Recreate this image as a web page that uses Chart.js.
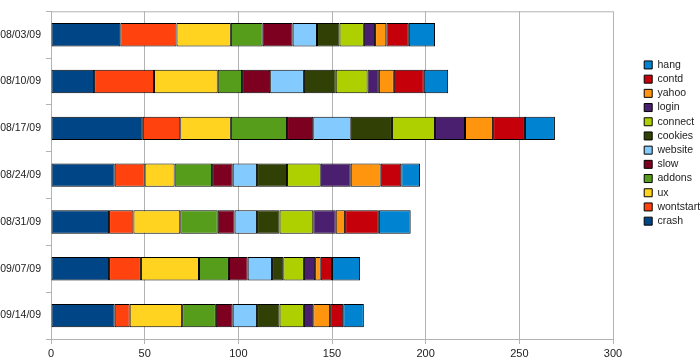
<!DOCTYPE html>
<html>
<head>
<meta charset="utf-8">
<script src="https://cdn.jsdelivr.net/npm/chart.js@4/dist/chart.umd.min.js"></script>
<style>
  html, body { margin: 0; padding: 0; background: #fff; }
  #wrap { width: 700px; height: 359px; }
</style>
</head>
<body>
<div id="wrap"><canvas id="chart"></canvas></div>
<script>
const weeks = ["08/03/09", "08/10/09", "08/17/09", "08/24/09", "08/31/09", "09/07/09", "09/14/09"];

const crash = [37, 23, 49, 34, 31, 31, 34];
const wontstart = [30, 32, 20, 16, 13, 17, 8];
const ux = [29, 34, 27, 16, 25, 31, 28];
const addons = [17, 13, 30, 20, 20, 16, 18];
const slow = [16, 15, 14, 11, 9, 10, 9];
const website = [13, 18, 20, 13, 12, 13, 13];
const cookies = [12, 17, 22, 16, 12, 6, 12];
const connect = [13, 17, 23, 18, 18, 11, 13];
const login = [6, 6, 16, 16, 12, 6, 5];
const yahoo = [6, 8, 15, 16, 5, 3, 9];
const contd = [12, 16, 17, 11, 18, 6, 7];
const hang = [14, 13, 16, 10, 17, 15, 11];

const xTicks = [0, 50, 100, 150, 200, 250, 300];

const GRID = "#b3b3b3";
const FONT = { family: "'Liberation Sans', Arial, sans-serif", size: 11 };

function series(label, data, color) {
  return {
    label,
    data,
    backgroundColor: color,
    borderColor: "#000",
    borderWidth: 1,
    borderSkipped: false,
    categoryPercentage: 1,
    barPercentage: 0.5,
  };
}

// thin grey line along the top of the plot area,
// and the legend pushed over to the right edge
const frame = {
  id: "frame",
  beforeDraw(chart) {
    const lg = chart.legend;
    if (lg) {
      lg.left = chart.width - 59.5;
      lg.right = chart.width;
      lg.width = lg.right - lg.left;
    }
  },
  afterDraw(chart) {
    const { ctx, chartArea } = chart;
    ctx.save();
    ctx.strokeStyle = GRID;
    ctx.lineWidth = 1;
    ctx.beginPath();
    ctx.moveTo(chartArea.left, chartArea.top + 0.5);
    ctx.lineTo(chartArea.right, chartArea.top + 0.5);
    ctx.stroke();
    ctx.restore();
  },
};

new Chart(document.getElementById("chart"), {
  type: "bar",
  data: {
    labels: weeks,
    datasets: [
      series("crash", crash, "#004586"),
      series("wontstart", wontstart, "#ff420e"),
      series("ux", ux, "#ffd320"),
      series("addons", addons, "#579d1c"),
      series("slow", slow, "#7e0021"),
      series("website", website, "#83caff"),
      series("cookies", cookies, "#314004"),
      series("connect", connect, "#aecf00"),
      series("login", login, "#4b1f6f"),
      series("yahoo", yahoo, "#ff950e"),
      series("contd", contd, "#c5000b"),
      series("hang", hang, "#0084d1"),
    ],
  },
  options: {
    indexAxis: "y",
    animation: false,
    responsive: true,
    maintainAspectRatio: false,
    layout: { padding: 0 },
    scales: {
      x: {
        stacked: true,
        min: 0,
        max: 300,
        afterBuildTicks: (scale) => {
          scale.ticks = xTicks.map((v) => ({ value: v }));
        },
        afterFit: (scale) => {
          scale.height = 20;
          // legend (60px) + gap so the plot ends at x=613
          scale.paddingRight = 87;
        },
        ticks: { color: "#222", font: FONT, padding: 3, maxRotation: 0 },
        grid: { color: GRID, tickLength: 5, tickColor: GRID },
        border: { color: GRID },
      },
      y: {
        stacked: true,
        afterFit: (scale) => {
          scale.width = 51;
        },
        ticks: { color: "#222", font: { family: FONT.family, size: 10.5 }, padding: 5 },
        grid: { drawOnChartArea: false, offset: true, tickLength: 5, color: GRID },
        border: { color: GRID },
      },
    },
    plugins: {
      tooltip: { enabled: false },
      legend: {
        position: "right",
        align: "start",
        reverse: true,
        maxWidth: 60,
        title: { display: true, text: "", font: { size: 1, lineHeight: 1 }, padding: { top: 55, bottom: 0 } },
        labels: {
          boxWidth: 8,
          boxHeight: 8,
          padding: 3.7,
          color: "#222",
          font: { family: FONT.family, size: 10.5 },
        },
      },
    },
  },
  plugins: [frame],
});
</script>
</body>
</html>
